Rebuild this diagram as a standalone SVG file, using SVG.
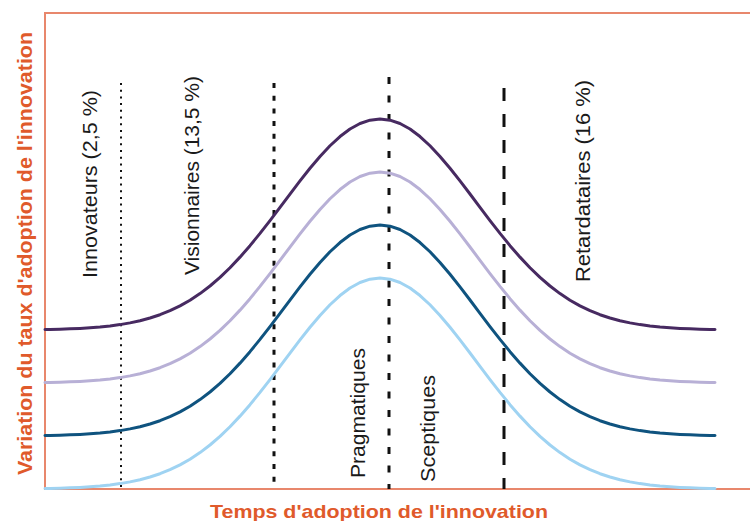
<svg xmlns="http://www.w3.org/2000/svg" width="750" height="521" viewBox="0 0 750 521">
  <style>
    .frame { fill: none; stroke: #E8876C; stroke-width: 2; }
    .curve { fill: none; stroke-width: 3; stroke-linejoin: round; stroke-linecap: round; }
    .vline { fill: none; stroke: #111; }
    .cat { font-family: "Liberation Sans", Arial, sans-serif; font-size: 21px; fill: #1a1a1a; }
    .axis { font-family: "Liberation Sans", Arial, sans-serif; font-weight: bold; fill: #E05A2B; }
  </style>
  <defs>
    <path id="bell" d="M45,-0.48 L50,-0.57 L60,-0.82 L70,-1.15 L80,-1.6 L90,-2.2 L100,-3 L110,-4.04 L120,-5.39 L130,-7.11 L140,-9.27 L150,-11.96 L160,-15.27 L170,-19.29 L180,-24.09 L190,-29.76 L200,-36.38 L210,-43.99 L220,-52.61 L230,-62.25 L240,-72.85 L250,-84.35 L260,-96.6 L270,-109.44 L280,-122.65 L290,-135.97 L300,-149.1 L310,-161.75 L320,-173.56 L330,-184.24 L340,-193.45 L350,-200.94 L360,-206.47 L370,-209.86 L380,-211 L390,-209.86 L400,-206.47 L410,-200.94 L420,-193.45 L430,-184.24 L440,-173.56 L450,-161.75 L460,-149.1 L470,-135.97 L480,-122.65 L490,-109.44 L500,-96.6 L510,-84.35 L520,-72.85 L530,-62.25 L540,-52.61 L550,-43.99 L560,-36.38 L570,-29.76 L580,-24.09 L590,-19.29 L600,-15.27 L610,-11.96 L620,-9.27 L630,-7.11 L640,-5.39 L650,-4.04 L660,-3 L670,-2.2 L680,-1.6 L690,-1.15 L700,-0.82 L710,-0.57 L715,-0.48"/>
  </defs>
  <rect width="750" height="521" fill="#ffffff"/>
  <g id="frame">
    <path class="frame" d="M752,13 H45 V489 H752"/>
  </g>
  <g id="connectors">
    <line class="vline" x1="121" y1="83" x2="121" y2="489" stroke-width="2" stroke-dasharray="2 4.7"/>
    <line class="vline" x1="274" y1="83" x2="274" y2="489" stroke-width="3" stroke-dasharray="5 7.7"/>
    <line class="vline" x1="389" y1="77" x2="389" y2="489" stroke-width="3" stroke-dasharray="7 11.5"/>
    <line class="vline" x1="504" y1="88" x2="504" y2="489" stroke-width="3" stroke-dasharray="13 13"/>
  </g>
  <g id="curves">
    <use href="#bell" class="curve" transform="translate(0,489)" stroke="#9FD3F2"/>
    <use href="#bell" class="curve" transform="translate(0,436)" stroke="#0F537F"/>
    <use href="#bell" class="curve" transform="translate(0,383)" stroke="#B8B0D6"/>
    <use href="#bell" class="curve" transform="translate(0,330)" stroke="#472A61"/>
  </g>
  <g id="innovateurs">
    <text class="cat" transform="translate(97,184) rotate(-90)" text-anchor="middle" textLength="188" lengthAdjust="spacingAndGlyphs">Innovateurs (2,5 %)</text>
  </g>
  <g id="visionnaires">
    <text class="cat" transform="translate(199,175.5) rotate(-90)" text-anchor="middle" textLength="199" lengthAdjust="spacingAndGlyphs">Visionnaires (13,5 %)</text>
  </g>
  <g id="pragmatiques">
    <text class="cat" transform="translate(365,413) rotate(-90)" text-anchor="middle" textLength="130" lengthAdjust="spacingAndGlyphs">Pragmatiques</text>
  </g>
  <g id="sceptiques">
    <text class="cat" transform="translate(435,428.5) rotate(-90)" text-anchor="middle" textLength="107" lengthAdjust="spacingAndGlyphs">Sceptiques</text>
  </g>
  <g id="retardataires">
    <text class="cat" transform="translate(590,181) rotate(-90)" text-anchor="middle" textLength="202" lengthAdjust="spacingAndGlyphs">Retardataires (16 %)</text>
  </g>
  <g id="axis-y">
    <text class="axis" font-size="21" transform="translate(31.5,253.5) rotate(-90)" text-anchor="middle" textLength="443" lengthAdjust="spacingAndGlyphs">Variation du taux d'adoption de l'innovation</text>
  </g>
  <g id="axis-x">
    <text class="axis" font-size="19" x="379" y="518" text-anchor="middle" textLength="338" lengthAdjust="spacingAndGlyphs">Temps d'adoption de l'innovation</text>
  </g>
</svg>
